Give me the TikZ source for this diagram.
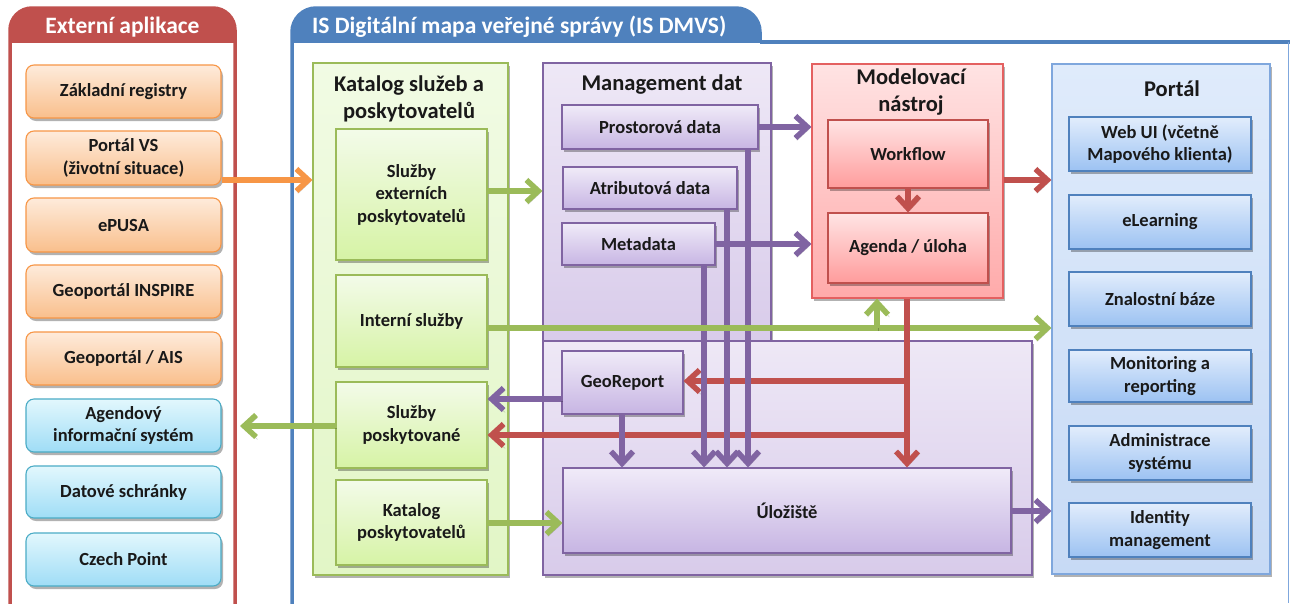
\documentclass[tikz,border=0pt]{standalone}
\usepackage{fontspec}
\setmainfont{Carlito}
\usetikzlibrary{arrows.meta,shadows}
\definecolor{extR}{HTML}{C0504D}
\definecolor{dmvsB}{HTML}{4F81BD}
\definecolor{orB}{HTML}{F79646}
\definecolor{orT}{HTML}{FEEBDB}
\definecolor{orBo}{HTML}{F9BF8C}
\definecolor{cyB}{HTML}{4BACC6}
\definecolor{cyT}{HTML}{E2F7FD}
\definecolor{cyBo}{HTML}{9FDDF6}
\definecolor{grB}{HTML}{9BBB59}
\definecolor{grCT}{HTML}{F1FBE4}
\definecolor{grCB}{HTML}{E2F6C6}
\definecolor{grT}{HTML}{F3FBE9}
\definecolor{grBo}{HTML}{D6F3A5}
\definecolor{puB}{HTML}{8064A2}
\definecolor{puCT}{HTML}{EEE8F6}
\definecolor{puCB}{HTML}{D8CBEA}
\definecolor{puT}{HTML}{F0EBF8}
\definecolor{puBo}{HTML}{C7B5E3}
\definecolor{reB}{HTML}{C0504D}
\definecolor{reCB}{HTML}{E46060}
\definecolor{reCT}{HTML}{FFE3E3}
\definecolor{reCBo}{HTML}{FFAAAA}
\definecolor{reT}{HTML}{FFE4E4}
\definecolor{reBo}{HTML}{FF9C9C}
\definecolor{blCB}{HTML}{7FA7DD}
\definecolor{blCT}{HTML}{DFEBFB}
\definecolor{blCBo}{HTML}{C7DAF5}
\definecolor{blT}{HTML}{E2EDFC}
\definecolor{blBo}{HTML}{9CC2F2}
\newcommand\bx[7]{\node[#1, minimum width={(#5-#3)*1pt}, minimum height={(#6-#4)*1pt}] (#2) at ({(#3+#5)/2},{(#4+#6)/2}) {#7};}
\begin{document}
\begin{tikzpicture}[x=1pt,y=-1pt,
  base/.style={draw, line width=1.1pt, align=center, inner sep=0pt, font=\bfseries\fontsize{18.5}{22.5}\selectfont, text=black!90},
  shd/.style={drop shadow={shadow xshift=2pt, shadow yshift=-3pt, opacity=0.3, fill=black}},
  obox/.style={base, shd, rounded corners=8pt, draw=orB, top color=orT, bottom color=orBo},
  cbox/.style={base, shd, rounded corners=8pt, draw=cyB, top color=cyT, bottom color=cyBo},
  gbox/.style={base, shd, draw=grB, top color=grT, bottom color=grBo},
  pbox/.style={base, shd, draw=puB, top color=puT, bottom color=puBo},
  rbox/.style={base, shd, draw=reB, top color=reT, bottom color=reBo},
  bbox/.style={base, shd, draw=dmvsB, top color=blT, bottom color=blBo},
  gcont/.style={base, shd, draw=grB, top color=grCT, bottom color=grCB},
  pcont/.style={base, shd, draw=puB, top color=puCT, bottom color=puCB},
  rcont/.style={base, shd, draw=reCB, top color=reCT, bottom color=reCBo},
  bcont/.style={base, shd, draw=blCB, top color=blCT, bottom color=blCBo},
  ctitle/.style={align=center, inner sep=0pt, font=\bfseries\fontsize{22.5}{27}\selectfont, text=black!90},
  htitle/.style={inner sep=0pt, font=\bfseries\fontsize{23.5}{27}\selectfont, text=white},
  arr/.style={line width=5.5pt, -{Straight Barb[length=12pt,width=22pt]},
    preaction={draw=black, draw opacity=0.22, transform canvas={shift={(1.5pt,-2.5pt)}}}},
]
\useasboundingbox (0,0) rectangle (1290,603);
\fill[white] (0,0) rectangle (1290,603);

% --- Externi aplikace panel
\begin{scope}
  \clip (0,0) rectangle (300,42);
  \fill[extR, rounded corners=22pt] (10,8) rectangle (235,90);
\end{scope}
\draw[extR, line width=3.5pt, rounded corners=22pt] (10,610) -- (10,8) -- (235,8) -- (235,610);
\draw[extR, line width=1pt] (10,42) -- (235,42);
\node[htitle] (exttitle) at (122.5,27) {Externí aplikace};

% --- IS DMVS panel
\begin{scope}
  \clip (280,0) rectangle (800,42);
  \fill[dmvsB, rounded corners=24pt] (292,8) rectangle (760,90);
\end{scope}
\draw[dmvsB, line width=3.5pt, rounded corners=24pt] (292,610) -- (292,8) -- (760,8) -- (760,42);
\draw[dmvsB, line width=3.5pt] (760,42) -- (1292,42);
\draw[blCB, line width=1pt] (1288,42) -- (1288,603);
\node[htitle, anchor=west] (dmvstitle) at (312,27) {IS Digitální mapa veřejné správy (IS DMVS)};

% --- left boxes
\bx{obox}{zr}{26}{65}{221}{118}{Základní registry}
\bx{obox}{pvs}{26}{131}{221}{185}{Portál VS\\(životní situace)}
\bx{obox}{epu}{26}{198}{221}{252}{ePUSA}
\bx{obox}{gin}{26}{265}{221}{318}{Geoportál INSPIRE}
\bx{obox}{gai}{26}{332}{221}{385}{Geoportál / AIS}
\bx{cbox}{agis}{26}{399}{221}{452}{Agendový\\informační systém}
\bx{cbox}{dsch}{26}{466}{221}{518}{Datové schránky}
\bx{cbox}{cp}{26}{533}{221}{586}{Czech Point}

% --- Katalog
\bx{gcont}{kat}{313}{63}{508}{575}{}
\node[ctitle] (kattitle) at (409,98.5) {Katalog služeb a\\poskytovatelů};
\bx{gbox}{sext}{336}{129}{487}{260}{Služby\\externích\\poskytovatelů}
\bx{gbox}{ints}{336}{275}{487}{367}{Interní služby}
\bx{gbox}{spos}{336}{382}{487}{468}{Služby\\poskytované}
\bx{gbox}{kpos}{336}{480}{487}{565}{Katalog\\poskytovatelů}

% --- Management dat
\bx{pcont}{md}{543}{63}{771}{344}{}
\bx{pcont}{mdl}{543}{341}{1032}{575}{}
\node[ctitle] (mdtitle) at (662,85) {Management dat};
\bx{pbox}{prd}{562}{105}{758}{149}{Prostorová data}
\bx{pbox}{atr}{563}{167}{737}{209}{Atributová data}
\bx{pbox}{meta}{562}{223}{715}{265}{Metadata}
\bx{pbox}{geo}{562}{351}{683}{414}{GeoReport}
\bx{pbox}{ulo}{563}{468}{1011}{553}{Úložiště}

% --- Modelovaci nastroj
\bx{rcont}{mod}{812}{64}{1003}{298}{}
\node[ctitle] (modtitle) at (911,92.5) {Modelovací\\nástroj};
\bx{rbox}{wf}{828}{120}{988}{188}{Workflow}
\bx{rbox}{ag}{828}{213}{988}{283}{Agenda / úloha}

% --- Portal
\bx{bcont}{por}{1052}{64}{1270}{574}{}
\node[ctitle] (portitle) at (1172,89) {Portál};
\bx{bbox}{web}{1069}{117}{1251}{171}{Web UI (včetně\\Mapového klienta)}
\bx{bbox}{elr}{1069}{195}{1251}{249}{eLearning}
\bx{bbox}{znb}{1069}{272}{1251}{326}{Znalostní báze}
\bx{bbox}{mon}{1069}{350}{1251}{402}{Monitoring a\\reporting}
\bx{bbox}{adm}{1069}{426}{1251}{480}{Administrace\\systému}
\bx{bbox}{idm}{1069}{503}{1251}{557}{Identity\\management}

% --- connectors
\coordinate (r1) at (907,381);
\coordinate (r2) at (907,435);
\coordinate (gup) at (877,328);
\coordinate (agin) at (240,426);

% red
\draw[arr, reB] (r1) -- (geo.east|-r1);
\draw[arr, reB] (r2) -- (spos.east|-r2);
\draw[arr, reB] (wf.south-|908,0) -- (ag.north-|908,0);
\draw[arr, reB] (mod.east|-0,180) -- (por.west|-0,180);
% purple
\draw[arr, puB] (prd.east|-0,127) -- (mod.west|-0,127);
\draw[arr, puB] (meta.east|-0,244) -- (mod.west|-0,244);
\draw[arr, puB] (meta.south-|704,0) -- (ulo.north-|704,0);
\draw[arr, puB] (atr.south-|727,0) -- (ulo.north-|727,0);
\draw[arr, puB] (prd.south-|748,0) -- (ulo.north-|748,0);
\draw[arr, puB] (geo.west|-0,399) -- (spos.east|-0,399);
\draw[arr, puB] (geo.south-|622,0) -- (ulo.north-|622,0);
\draw[arr, puB] (ulo.east|-0,511) -- (por.west|-0,511);
% green
\draw[arr, grB] (sext.east|-0,191) -- (md.west|-0,191);
\draw[arr, grB] (ints.east|-0,328) -- (por.west|-0,328);
\draw[arr, grB] (gup) -- (mod.south-|gup);
\draw[arr, grB] (spos.west|-agin) -- (agin);
\draw[arr, grB] (kpos.east|-0,523) -- (ulo.west|-0,523);
% red vertical
\draw[arr, reB] (mod.south-|907,0) -- (ulo.north-|907,0);
% orange
\draw[arr, orB] (pvs.east|-0,180) -- (kat.west|-0,180);
\end{tikzpicture}
\end{document}
